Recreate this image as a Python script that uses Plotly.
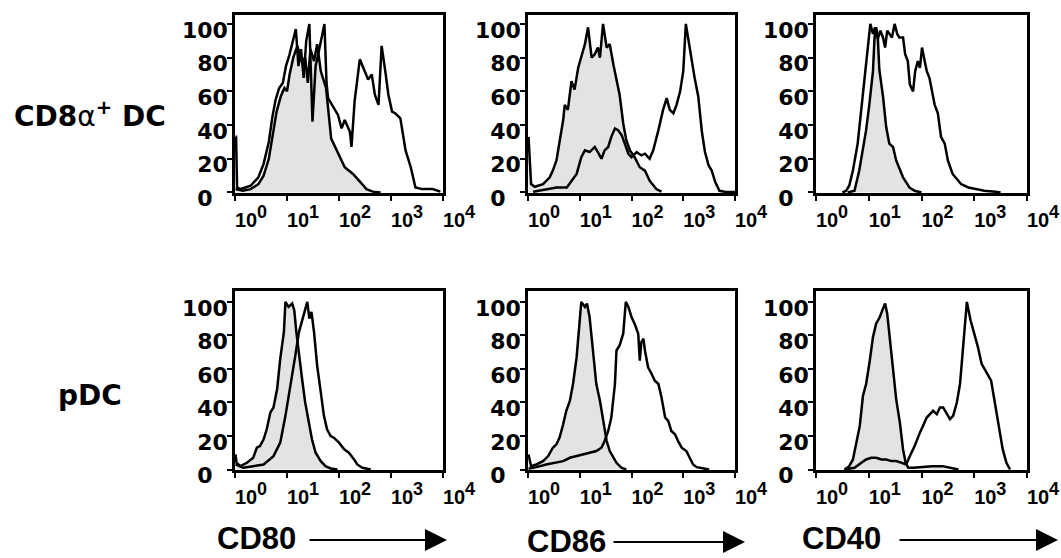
import plotly.graph_objects as go

# ---------------- data (x in decades: 0 -> 10^0 ... 4 -> 10^4; y = % of max) ----------------
CD8_CD80_CTRL_X = [0.01, 0.15, 0.3, 0.45, 0.55, 0.65, 0.72, 0.8, 0.88, 0.95, 1.0, 1.05, 1.12, 1.2, 1.28, 1.35, 1.4, 1.45, 1.52, 1.58, 1.65, 1.75, 1.85, 2.01, 2.11, 2.27, 2.44, 2.53, 2.65, 2.8]
CD8_CD80_CTRL_Y = [2, 1, 2, 5, 10, 20, 33, 48, 57, 62, 60, 70, 80, 87, 78, 80, 65, 85, 78, 88, 72, 62, 32, 22, 15, 11, 5, 2, 0.5, 0]
CD8_CD80_STIM_X = [0.01, 0.02, 0.04, 0.1, 0.3, 0.45, 0.55, 0.65, 0.72, 0.78, 0.85, 0.92, 0.98, 1.05, 1.17, 1.22, 1.27, 1.32, 1.37, 1.43, 1.49, 1.55, 1.62, 1.72, 1.76, 1.79, 1.98, 2.05, 2.11, 2.21, 2.24, 2.3, 2.4, 2.5, 2.56, 2.63, 2.69, 2.76, 2.82, 2.89, 2.95, 3.02, 3.08, 3.18, 3.28, 3.38, 3.47, 3.6, 3.8, 3.95]
CD8_CD80_STIM_Y = [33, 33, 3, 2, 4, 9, 17, 30, 45, 55, 62, 65, 75, 82, 97, 75, 85, 68, 90, 100, 42, 75, 85, 100, 65, 56, 46, 38, 43, 36, 27, 54, 79, 72, 67, 70, 58, 52, 87, 72, 58, 48, 47, 44, 25, 15, 3, 2, 2, 0.5]

CD8_CD86_CTRL_X = [0.01, 0.06, 0.13, 0.29, 0.42, 0.48, 0.55, 0.61, 0.68, 0.71, 0.77, 0.84, 0.9, 0.97, 1.03, 1.1, 1.16, 1.23, 1.29, 1.35, 1.39, 1.45, 1.52, 1.58, 1.65, 1.71, 1.77, 1.84, 1.9, 1.97, 2.06, 2.16, 2.26, 2.35, 2.48, 2.58]
CD8_CD86_CTRL_Y = [33, 5, 3.4, 5, 9, 13, 19, 31, 43, 52, 49, 66, 61, 74, 80, 88, 98, 80, 82, 86, 80, 100, 86, 88, 76, 66, 58, 41, 31, 25, 21, 15, 13, 7, 2, 0.5]
CD8_CD86_STIM_X = [0.1, 0.35, 0.55, 0.75, 0.84, 0.94, 1.03, 1.1, 1.19, 1.29, 1.35, 1.42, 1.48, 1.55, 1.61, 1.68, 1.74, 1.81, 1.87, 1.94, 2.0, 2.1, 2.19, 2.26, 2.35, 2.42, 2.52, 2.61, 2.68, 2.74, 2.81, 2.87, 2.94, 3.0, 3.05, 3.1, 3.16, 3.22, 3.29, 3.36, 3.42, 3.49, 3.55, 3.62, 3.7, 3.8, 4.0]
CD8_CD86_STIM_Y = [0.5, 2, 3, 3, 7, 11, 21, 25, 24, 27, 24, 20, 25, 27, 33, 38, 37, 34, 29, 23, 21, 24, 22, 23, 20, 25, 37, 49, 56, 49, 47, 52, 60, 72, 100, 90, 78, 68, 57, 36, 24, 16, 13, 6, 1, 0.5, 0.3]

CD8_CD40_CTRL_X = [0.6, 0.73, 0.82, 0.89, 0.95, 1.01, 1.08, 1.11, 1.14, 1.17, 1.2, 1.27, 1.33, 1.39, 1.46, 1.52, 1.65, 1.77, 1.87, 2.0]
CD8_CD40_CTRL_Y = [0, 1, 13, 25, 37, 52, 72, 92, 98, 93, 73, 57, 39, 29, 27, 19, 9, 3, 1, 0]
CD8_CD40_STIM_X = [0.5, 0.57, 0.63, 0.7, 0.79, 0.85, 0.92, 0.98, 1.03, 1.08, 1.12, 1.17, 1.22, 1.27, 1.31, 1.35, 1.39, 1.44, 1.49, 1.54, 1.58, 1.65, 1.69, 1.74, 1.78, 1.84, 1.88, 1.93, 1.97, 2.01, 2.06, 2.1, 2.15, 2.2, 2.25, 2.31, 2.37, 2.44, 2.5, 2.59, 2.69, 2.75, 2.89, 3.04, 3.19, 3.4, 3.5]
CD8_CD40_STIM_Y = [0, 1, 4, 13, 29, 47, 66, 86, 100, 94, 98, 91, 96, 92, 86, 96, 94, 92, 100, 94, 92, 92, 82, 78, 64, 60, 72, 78, 74, 86, 78, 72, 68, 60, 52, 47, 33, 29, 19, 11, 7, 5, 3, 2, 1, 0.5, 0]

PDC_CD80_CTRL_X = [0.01, 0.03, 0.1, 0.23, 0.35, 0.42, 0.48, 0.55, 0.61, 0.68, 0.74, 0.81, 0.87, 0.94, 0.97, 1.03, 1.1, 1.14, 1.18, 1.23, 1.29, 1.35, 1.42, 1.48, 1.55, 1.65, 1.74, 1.84, 1.97]
PDC_CD80_CTRL_Y = [9, 4, 2, 4, 7, 13, 14, 18, 24, 34, 37, 48, 66, 82, 100, 97, 99, 95, 82, 68, 54, 40, 28, 18, 10, 5, 2, 0.6, 0]
PDC_CD80_STIM_X = [0.01, 0.16, 0.35, 0.55, 0.74, 0.87, 0.97, 1.06, 1.16, 1.23, 1.29, 1.35, 1.39, 1.43, 1.47, 1.52, 1.58, 1.65, 1.71, 1.77, 1.84, 1.9, 2.0, 2.1, 2.19, 2.29, 2.35, 2.45, 2.61]
PDC_CD80_STIM_Y = [3, 1, 2, 3, 8, 16, 32, 48, 68, 82, 89, 95, 100, 90, 94, 82, 62, 46, 32, 24, 20, 19, 16, 12, 10, 6, 3, 1, 0]

PDC_CD86_CTRL_X = [0.01, 0.06, 0.16, 0.29, 0.39, 0.48, 0.55, 0.61, 0.68, 0.74, 0.81, 0.87, 0.94, 1.0, 1.03, 1.1, 1.14, 1.19, 1.26, 1.32, 1.39, 1.45, 1.52, 1.58, 1.65, 1.71, 1.81, 1.9]
PDC_CD86_CTRL_Y = [9, 2, 3, 5, 8, 13, 15, 19, 27, 35, 41, 51, 67, 87, 100, 97, 99, 91, 71, 51, 41, 29, 17, 11, 7, 4, 1, 0]
PDC_CD86_STIM_X = [0.01, 0.16, 0.35, 0.55, 0.68, 0.81, 0.94, 1.06, 1.19, 1.32, 1.42, 1.48, 1.55, 1.61, 1.68, 1.71, 1.77, 1.84, 1.89, 1.94, 2.0, 2.06, 2.13, 2.16, 2.19, 2.23, 2.26, 2.32, 2.39, 2.45, 2.52, 2.58, 2.65, 2.71, 2.77, 2.84, 2.9, 2.97, 3.06, 3.13, 3.19, 3.26, 3.39, 3.5]
PDC_CD86_STIM_Y = [0.5, 1.4, 3, 4, 5, 7, 8, 9, 10, 11, 13, 17, 23, 31, 51, 71, 74, 81, 100, 97, 91, 87, 81, 65, 76, 78, 71, 61, 57, 53, 51, 43, 31, 29, 23, 21, 17, 13, 11, 7, 3, 1.4, 0.6, 0]

PDC_CD40_CTRL_X = [0.54, 0.63, 0.7, 0.76, 0.83, 0.89, 0.95, 1.02, 1.08, 1.14, 1.21, 1.27, 1.31, 1.35, 1.4, 1.46, 1.52, 1.59, 1.65, 1.7, 1.75, 1.84, 2.0, 2.2, 2.4, 2.55, 2.7]
PDC_CD40_CTRL_Y = [0, 2, 6, 16, 26, 44, 51, 65, 79, 87, 91, 96, 99, 93, 77, 57, 42, 28, 12, 4, 1, 1, 1.5, 2, 2, 1, 0]
PDC_CD40_STIM_X = [0.54, 0.73, 0.86, 0.95, 1.05, 1.14, 1.24, 1.33, 1.43, 1.52, 1.62, 1.71, 1.78, 1.87, 1.97, 2.03, 2.1, 2.16, 2.22, 2.29, 2.35, 2.41, 2.48, 2.54, 2.6, 2.67, 2.73, 2.79, 2.86, 2.93, 3.0, 3.07, 3.14, 3.25, 3.32, 3.39, 3.46, 3.54, 3.61, 3.68]
PDC_CD40_STIM_Y = [0, 1, 4, 6, 7, 7, 6, 6, 5, 5, 4, 3, 8, 14, 22, 26, 31, 33, 35, 33, 37, 37, 33, 30, 32, 40, 51, 73, 100, 89, 81, 73, 63, 57, 53, 40, 28, 12, 4, 0]

ROW_LABELS = ["CD8<span style='font-weight:normal'>α</span><sup>+</sup> DC", "pDC"]
MARKERS = ["CD80", "CD86", "CD40"]
Y_TICKS = [0, 20, 40, 60, 80, 100]
Y_TICK_TEXT = ["0\u00a0\u00a0", "20", "40", "60", "80", "100"]
X_TICKS = [0, 1, 2, 3, 4]
X_TICK_TEXT = ["10<sup><span style='font-size:18px'>%d</span></sup>" % k for k in X_TICKS]

PANELS = [
    [(CD8_CD80_CTRL_X, CD8_CD80_CTRL_Y, CD8_CD80_STIM_X, CD8_CD80_STIM_Y),
     (CD8_CD86_CTRL_X, CD8_CD86_CTRL_Y, CD8_CD86_STIM_X, CD8_CD86_STIM_Y),
     (CD8_CD40_CTRL_X, CD8_CD40_CTRL_Y, CD8_CD40_STIM_X, CD8_CD40_STIM_Y)],
    [(PDC_CD80_CTRL_X, PDC_CD80_CTRL_Y, PDC_CD80_STIM_X, PDC_CD80_STIM_Y),
     (PDC_CD86_CTRL_X, PDC_CD86_CTRL_Y, PDC_CD86_STIM_X, PDC_CD86_STIM_Y),
     (PDC_CD40_CTRL_X, PDC_CD40_CTRL_Y, PDC_CD40_STIM_X, PDC_CD40_STIM_Y)],
]

W, H = 1061, 558
COLS_PX = [(235, 443), (528, 735), (816, 1027)]
ROWS_PX = [(15, 193), (291, 470)]
Y_TOP = [105.3, 106.5]

fig = go.Figure()
layout = dict(
    width=W, height=H, margin=dict(l=0, r=0, t=0, b=0, autoexpand=False),
    paper_bgcolor="white", plot_bgcolor="white", showlegend=False,
)

TICK_FONT_Y = dict(family="DejaVu Sans", size=22, color="black", weight="bold")
TICK_FONT_X = dict(family="Liberation Sans", size=20, color="black", weight="bold")

for r in range(2):
    for c in range(3):
        idx = r * 3 + c + 1
        xa = "x" if idx == 1 else f"x{idx}"
        ya = "y" if idx == 1 else f"y{idx}"
        cx, cy, sx, sy = PANELS[r][c]
        fig.add_trace(go.Scatter(x=cx, y=cy, mode="lines", fill="tozeroy",
                                 fillcolor="#e3e3e3", line=dict(color="black", width=2.5),
                                 xaxis=xa, yaxis=ya, hoverinfo="skip"))
        fig.add_trace(go.Scatter(x=sx, y=sy, mode="lines",
                                 line=dict(color="black", width=2.5),
                                 xaxis=xa, yaxis=ya, hoverinfo="skip"))
        x0, x1 = COLS_PX[c]
        y0, y1 = ROWS_PX[r]
        xkey = "xaxis" if idx == 1 else f"xaxis{idx}"
        ykey = "yaxis" if idx == 1 else f"yaxis{idx}"
        layout[xkey] = dict(
            domain=[x0 / W, x1 / W], anchor=ya, range=[0, 4], automargin=False,
            tickmode="array", tickvals=X_TICKS, ticktext=X_TICK_TEXT,
            ticks="outside", ticklen=5, tickwidth=2, tickcolor="black",
            showline=True, linewidth=2.5, linecolor="black", mirror=True,
            showgrid=False, zeroline=False, tickfont=TICK_FONT_X,
            ticklabelshift=16, ticklabelstandoff=2, fixedrange=True,
        )
        layout[ykey] = dict(
            domain=[1 - y1 / H, 1 - y0 / H], anchor=xa, range=[-0.3, Y_TOP[r]], automargin=False,
            tickmode="array", tickvals=Y_TICKS, ticktext=Y_TICK_TEXT,
            ticks="outside", ticklen=5, tickwidth=2, tickcolor="black",
            showline=True, linewidth=2.5, linecolor="black", mirror=True,
            showgrid=False, zeroline=False, tickfont=TICK_FONT_Y,
            ticklabelshift=6, ticklabelstandoff=-5, fixedrange=True,
        )

annotations = []
annotations.append(dict(text=ROW_LABELS[0], x=12 / W, y=1 - 114 / H, xref="paper", yref="paper",
                        xanchor="left", yanchor="middle", showarrow=False,
                        font=dict(family="DejaVu Sans", size=28, color="black", weight="bold")))
annotations.append(dict(text=ROW_LABELS[1], x=90 / W, y=1 - 395 / H, xref="paper", yref="paper",
                        xanchor="center", yanchor="middle", showarrow=False,
                        font=dict(family="DejaVu Sans", size=28, color="black", weight="bold")))

LABEL_POS = [(215, 538), (525, 541), (800, 538)]
ARROWS = [(308, 447, 540), (612, 745, 542), (898, 1058, 540)]
for name, (lx, ly), (ax0, ax1, ayy) in zip(MARKERS, LABEL_POS, ARROWS):
    annotations.append(dict(text=name, x=lx / W, y=1 - ly / H, xref="paper", yref="paper",
                            xanchor="left", yanchor="middle", showarrow=False,
                            font=dict(family="Liberation Sans", size=31, color="black", weight="bold")))
    annotations.append(dict(text="", x=ax1 / W, y=1 - ayy / H, xref="paper", yref="paper",
                            ax=-(ax1 - ax0), ay=0, showarrow=True, arrowhead=2,
                            arrowsize=2.2, arrowwidth=2, arrowcolor="black", standoff=0))

layout["annotations"] = annotations
fig.update_layout(**layout)
fig.write_html("out.html")
